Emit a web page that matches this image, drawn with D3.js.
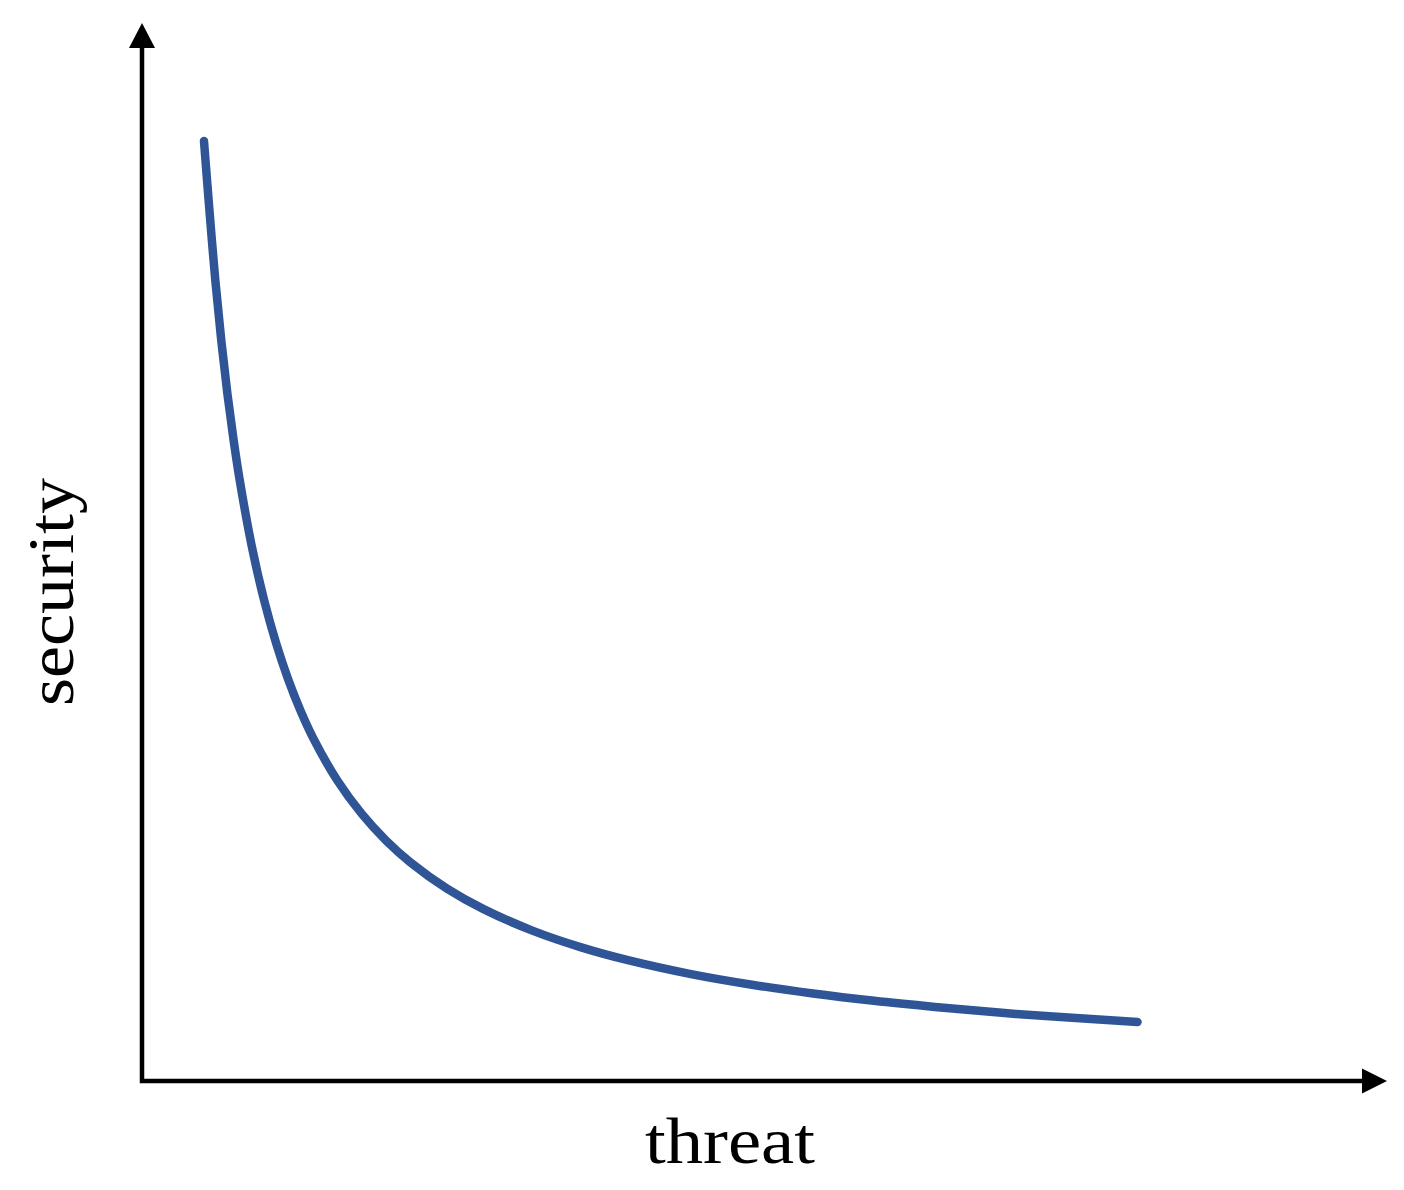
<!DOCTYPE html>
<html>
<head>
<meta charset="utf-8">
<script src="https://cdn.jsdelivr.net/npm/d3@7"></script>
<style>
  html, body { margin: 0; padding: 0; background: #fff; }
  svg { display: block; }
</style>
</head>
<body>
<svg id="chart" width="1404" height="1190"></svg>
<script>
// Data (arbitrary units, 0–100 on each axis)
const threat   = [5.08, 5.5, 6, 6.5, 7, 7.5, 8, 9, 10, 11, 12, 13, 14, 16, 18, 20, 22, 25, 28, 32, 36, 40, 45, 50, 55, 60, 65, 70, 75, 81.6];
const security = [91.0, 84.69, 77.63, 71.66, 66.54, 62.11, 58.23, 51.76, 46.58, 42.35, 38.82, 35.83, 33.27, 29.11, 25.88, 23.29, 21.17, 18.63, 16.64, 14.56, 12.94, 11.65, 10.35, 9.32, 8.47, 7.76, 7.17, 6.65, 6.21, 5.71];
const xLabel = "threat";
const yLabel = "security";

const svg = d3.select("#chart");

const x = d3.scaleLinear().domain([0, 100]).range([142, 1362]);
const y = d3.scaleLinear().domain([0, 100]).range([1081, 48]);

const data = threat.map((t, i) => ({ t, s: security[i] }));

// Axes with arrowheads
const x0 = x(0), y0 = y(0);
const xEnd = x.range()[1], yEnd = y.range()[1];
svg.append("path")
  .attr("d", `M${x0},${yEnd} V${y0} H${xEnd}`)
  .attr("fill", "none")
  .attr("stroke", "#000")
  .attr("stroke-width", 4.5)
  .attr("stroke-linejoin", "miter");

// y arrowhead
svg.append("path")
  .attr("d", `M${x0},${yEnd - 25} L${x0 - 13},${yEnd} L${x0 + 13},${yEnd} Z`)
  .attr("fill", "#000");
// x arrowhead
svg.append("path")
  .attr("d", `M${xEnd + 25},${y0} L${xEnd},${y0 - 12.5} L${xEnd},${y0 + 12.5} Z`)
  .attr("fill", "#000");

// Curve
const line = d3.line()
  .x(d => x(d.t))
  .y(d => y(d.s))
  .curve(d3.curveCatmullRom.alpha(0.5));

svg.append("path")
  .datum(data)
  .attr("d", line)
  .attr("fill", "none")
  .attr("stroke", "#2F5597")
  .attr("stroke-width", 8.5)
  .attr("stroke-linecap", "round")
  .attr("stroke-linejoin", "round");

// Labels
svg.append("text")
  .attr("x", 730)
  .attr("y", 1163)
  .attr("text-anchor", "middle")
  .attr("font-family", "'Liberation Serif', 'DejaVu Serif', serif")
  .attr("font-size", 66)
  .attr("textLength", 170)
  .attr("lengthAdjust", "spacingAndGlyphs")
  .attr("fill", "#000")
  .text(xLabel);

svg.append("text")
  .attr("transform", "translate(73,592) rotate(-90)")
  .attr("text-anchor", "middle")
  .attr("font-family", "'Liberation Serif', 'DejaVu Serif', serif")
  .attr("font-size", 66)
  .attr("textLength", 228)
  .attr("lengthAdjust", "spacingAndGlyphs")
  .attr("fill", "#000")
  .text(yLabel);
</script>
</body>
</html>
